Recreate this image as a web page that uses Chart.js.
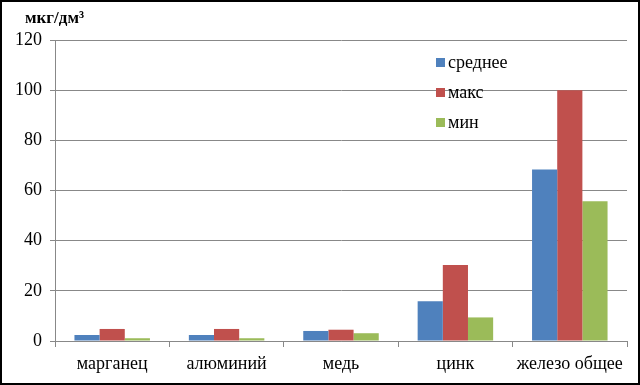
<!DOCTYPE html>
<html><head><meta charset="utf-8">
<script src="https://cdn.jsdelivr.net/npm/chart.js@4.4.1/dist/chart.umd.min.js"></script>
<style>html,body{margin:0;padding:0;background:#fff}#wrap{width:640px;height:385px;position:relative}</style>
</head><body><div id="wrap"><canvas id="c" width="640" height="385"></canvas></div>
<script>
const categories = ['марганец','алюминий','медь','цинк','железо общее'];
const seriesNames = ['среднее','макс','мин'];
const avgValues = [2.4, 2.4, 4.0, 15.8, 68.4];
const maxValues = [4.8, 4.8, 4.5, 30.3, 100];
const minValues = [1.1, 1.1, 3.1, 9.4, 55.7];
const yTicks = [0,20,40,60,80,100,120];
const unitTitle = 'мкг/дм³';
const colors = ['#4F81BD','#C0504D','#9BBB59'];
const FONT = '"Liberation Serif", "Times New Roman", serif';

const framePlugin = {
  id:'frame',
  beforeDraw(chart){
    const ctx=chart.ctx; ctx.save();
    ctx.fillStyle='#fff'; ctx.fillRect(0,0,chart.width,chart.height);
    ctx.restore();
  },
  afterDraw(chart){
    const ctx=chart.ctx; ctx.save();
    ctx.strokeStyle='#000'; ctx.lineWidth=2;
    ctx.strokeRect(1,1,chart.width-2,chart.height-2);
    ctx.fillStyle='#000'; ctx.font='bold 17px '+FONT; ctx.textBaseline='middle'; ctx.textAlign='left';
    ctx.fillText(unitTitle, 25, 19);
    ctx.font='18px '+FONT;
    chart.data.datasets.forEach((ds,i)=>{
      const y = 62 + i*30;
      ctx.fillStyle=ds.backgroundColor; ctx.fillRect(436, y-4, 9, 9);
      ctx.fillStyle='#000'; ctx.fillText(ds.label, 448, y+1);
    });
    ctx.restore();
  }
};

new Chart(document.getElementById('c'), {
  type:'bar',
  data:{
    labels:categories,
    datasets:[
      {label:seriesNames[0], data:avgValues, backgroundColor:colors[0]},
      {label:seriesNames[1], data:maxValues, backgroundColor:colors[1]},
      {label:seriesNames[2], data:minValues, backgroundColor:colors[2]}
    ]
  },
  options:{
    responsive:false, animation:false,
    layout:{padding:{top:40,left:0,right:13,bottom:0}},
    datasets:{bar:{categoryPercentage:0.66, barPercentage:1.0}},
    plugins:{legend:{display:false}, tooltip:{enabled:false}},
    scales:{
      x:{
        grid:{drawOnChartArea:false, drawTicks:true, tickLength:6, offset:true, color:'#888'},
        border:{color:'#888', width:1},
        ticks:{color:'#000', font:{family:FONT,size:18}, padding:6, maxRotation:0},
        afterFit(s){ s.height=44; }
      },
      y:{
        min:0, max:120,
        afterBuildTicks(s){ s.ticks = yTicks.map(v=>({value:v})); },
        grid:{color:'#888', tickLength:5, lineWidth:1},
        border:{color:'#888', width:1},
        ticks:{color:'#000', font:{family:FONT,size:18}, padding:8},
        afterFit(s){ s.width=55; }
      }
    }
  },
  plugins:[framePlugin]
});
</script></body></html>
